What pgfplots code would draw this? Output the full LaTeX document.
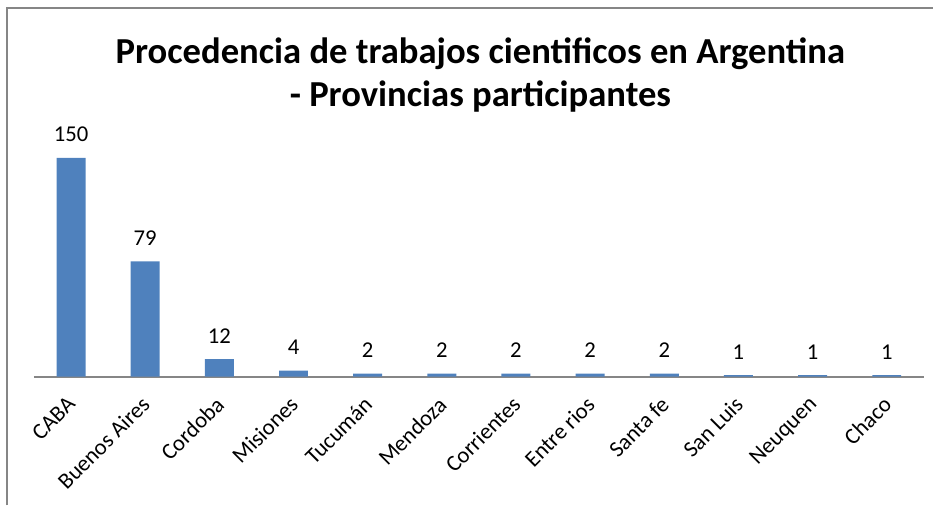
\documentclass[border=0pt]{standalone}
\usepackage{fontspec}
\setmainfont{Carlito}
\usepackage{pgfplots}
\pgfplotsset{compat=1.18}
\definecolor{barblue}{HTML}{4F81BD}
\definecolor{axgray}{HTML}{868686}
\begin{document}
\begin{tikzpicture}
\path (0pt,0pt) rectangle (700.5pt,-379.5pt);
\draw[axgray, line width=1.8pt] (5.25pt,-379.5pt) -- (5.25pt,-6pt) -- (700.5pt,-6pt);
\node[font=\bfseries\fontsize{27.5}{32.5}\selectfont, align=center, anchor=base, inner sep=0pt] at (360.75pt,-80.25pt)
  {Procedencia de trabajos cientificos en Argentina\\- Provincias participantes};
\begin{axis}[
  at={(25.5pt,-282.75pt)}, anchor=south west,
  scale only axis, width=668.25pt, height=192.75pt,
  ybar, bar width=21.75pt,
  xmin=-0.5, xmax=11.5, ymin=0, ymax=176,
  axis x line=bottom, axis y line=none,
  x axis line style={axgray, line width=1.5pt, -},
  xtick={0,...,11},
  xticklabels={CABA,Buenos Aires,Cordoba,Misiones,Tucumán,Mendoza,Corrientes,Entre rios,Santa fe,San Luis,Neuquen,Chaco},
  major tick length=0pt,
  xticklabel style={xshift=-3.75pt, yshift=-13.8pt, rotate=45, anchor=north east, inner sep=0pt, font=\fontsize{17}{20}\selectfont},
  nodes near coords,
  every node near coord/.append style={anchor=base, yshift=12pt, inner sep=0pt, font=\fontsize{17}{20}\selectfont, text=black},
  /pgf/number format/assume math mode=true,
  clip=false,
]
\addplot[fill=barblue, draw=none] coordinates {
(0,150) (1,79) (2,12) (3,4) (4,2) (5,2) (6,2) (7,2) (8,2) (9,1) (10,1) (11,1)};
\end{axis}
\end{tikzpicture}
\end{document}
